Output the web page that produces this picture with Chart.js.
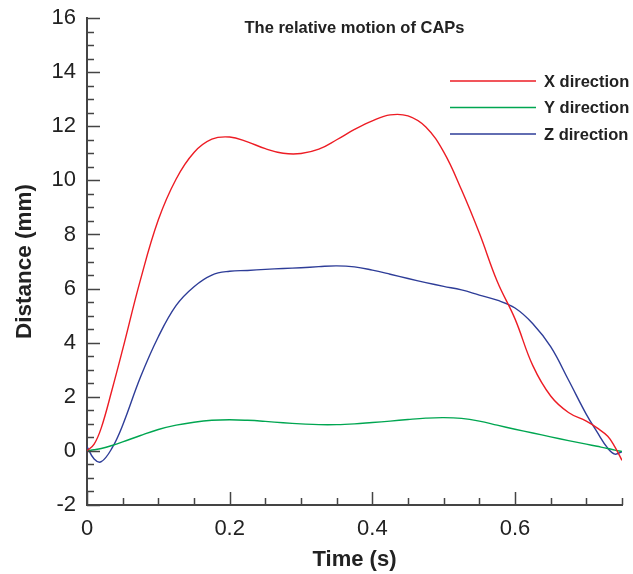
<!DOCTYPE html>
<html>
<head>
<meta charset="utf-8">
<script src="https://cdn.jsdelivr.net/npm/chart.js@4"></script>
<style>
  html, body { margin: 0; padding: 0; background: #fff; }
  canvas { display: block; }
</style>
</head>
<body>
<canvas id="chartCAPs" width="633" height="574"></canvas>
<script>
// Tempo (s) e deslocamentos (mm)
const tempo = [0, 0.01, 0.02, 0.035, 0.05, 0.075, 0.1, 0.125, 0.15, 0.175, 0.2, 0.225, 0.25, 0.275, 0.3,
  0.325, 0.35, 0.375, 0.4, 0.425, 0.45, 0.475, 0.5, 0.525, 0.55, 0.575, 0.6, 0.625, 0.65, 0.675, 0.7,
  0.715, 0.73, 0.74, 0.75];
const xDirection = [0, 0.25, 0.85, 2.25, 3.75, 6.33, 8.54, 10.05, 11.03, 11.52, 11.6, 11.42, 11.17, 11.0, 10.99,
  11.15, 11.5, 11.88, 12.2, 12.42, 12.38, 11.97, 11.05, 9.65, 8.05, 6.27, 4.88, 3.15, 2.03, 1.42, 1.1,
  0.85, 0.54, 0.15, -0.35];
const yDirection = [0, 0.04, 0.09, 0.2, 0.33, 0.57, 0.79, 0.95, 1.06, 1.13, 1.15, 1.13, 1.09, 1.04, 1.0,
  0.97, 0.97, 1.0, 1.05, 1.1, 1.16, 1.21, 1.23, 1.2, 1.1, 0.95, 0.8, 0.66, 0.52, 0.38, 0.25,
  0.17, 0.09, 0.03, -0.02];
const zDirection = [0.16, -0.3, -0.4, 0.1, 0.95, 2.73, 4.22, 5.38, 6.07, 6.5, 6.64, 6.67, 6.71, 6.74, 6.77,
  6.81, 6.84, 6.8, 6.68, 6.53, 6.37, 6.22, 6.08, 5.95, 5.76, 5.57, 5.28, 4.7, 3.85, 2.62, 1.35,
  0.7, 0.1, -0.12, -0.03];

const xTicks = [0, 0.2, 0.4, 0.6];
const yTicks = [-2, 0, 2, 4, 6, 8, 10, 12, 14, 16];
const seriesLabels = ['X direction', 'Y direction', 'Z direction'];
const chartTitle = 'The relative motion of CAPs';

const fonte = "'Liberation Sans', Arial, Helvetica, sans-serif";
Chart.defaults.font.family = fonte;
Chart.defaults.color = '#222';

function pontos(valores) {
  return tempo.map((t, i) => ({ x: t, y: valores[i] }));
}

// ticks para dentro, título e legenda dentro da área do gráfico
const eixosPlugin = {
  id: 'eixos',
  afterDraw(chart) {
    const { ctx, chartArea, scales: { x, y } } = chart;
    ctx.save();
    ctx.strokeStyle = '#444';
    ctx.lineWidth = 1.5;
    ctx.beginPath();
    for (let i = 0; i <= 36; i++) {
      const py = Math.round(y.getPixelForValue(-2 + i * 0.5)) + 0.5;
      const len = i % 4 === 0 ? 13 : 7;
      ctx.moveTo(chartArea.left, py);
      ctx.lineTo(chartArea.left + len, py);
    }
    for (let i = 0; i <= 15; i++) {
      const px = Math.round(x.getPixelForValue(i * 0.05)) + 0.5;
      const len = i % 4 === 0 ? 13 : 7;
      ctx.moveTo(px, chartArea.bottom);
      ctx.lineTo(px, chartArea.bottom - len);
    }
    ctx.stroke();

    ctx.fillStyle = '#222';
    ctx.textAlign = 'center';
    ctx.textBaseline = 'middle';
    ctx.font = 'bold 16.5px ' + fonte;
    ctx.fillText(chartTitle, (chartArea.left + chartArea.right) / 2, chartArea.top + 10);

    ctx.textAlign = 'left';
    ctx.font = 'bold 16.5px ' + fonte;
    chart.data.datasets.forEach((ds, i) => {
      const yy = chartArea.top + 63 + i * 26.5;
      ctx.strokeStyle = ds.borderColor;
      ctx.lineWidth = 1.5;
      ctx.beginPath();
      ctx.moveTo(chartArea.right - 172, yy);
      ctx.lineTo(chartArea.right - 86, yy);
      ctx.stroke();
      ctx.fillText(ds.label, chartArea.right - 78, yy + 1);
    });
    ctx.restore();
  }
};

new Chart(document.getElementById('chartCAPs'), {
  type: 'line',
  data: {
    datasets: [
      { label: seriesLabels[0], data: pontos(xDirection), borderColor: '#ED1C24' },
      { label: seriesLabels[1], data: pontos(yDirection), borderColor: '#00A651' },
      { label: seriesLabels[2], data: pontos(zDirection), borderColor: '#2E3D98' }
    ]
  },
  options: {
    responsive: false,
    animation: false,
    devicePixelRatio: 1,
    layout: { padding: { left: 0, right: 11, top: 18, bottom: 0 } },
    elements: {
      line: { borderWidth: 1.4, tension: 0.4, fill: false },
      point: { radius: 0, hoverRadius: 0 }
    },
    plugins: {
      legend: { display: false },
      tooltip: { enabled: false }
    },
    scales: {
      x: {
        type: 'linear',
        min: 0,
        max: 0.75,
        afterBuildTicks: s => { s.ticks = xTicks.map(v => ({ value: v })); },
        afterFit: s => { s.height = 69; s.paddingLeft = 0; s.paddingRight = 0; },
        grid: { display: false, drawTicks: false },
        border: { display: true, color: '#444', width: 2 },
        ticks: { font: { size: 22 }, color: '#222', padding: 11, maxRotation: 0 },
        title: { display: true, text: 'Time (s)', font: { size: 22, weight: 'bold' }, color: '#222', padding: { top: 0, bottom: 1 } }
      },
      y: {
        min: -2,
        max: 16,
        afterBuildTicks: s => { s.ticks = yTicks.map(v => ({ value: v })); },
        afterFit: s => { s.width = 87; s.paddingTop = 0; s.paddingBottom = 0; },
        grid: { display: false, drawTicks: false },
        border: { display: true, color: '#444', width: 2 },
        ticks: { font: { size: 22 }, color: '#222', padding: 11 },
        title: { display: true, text: 'Distance (mm)', font: { size: 22.5, weight: 'bold' }, color: '#222', padding: { top: 11, bottom: 0 } }
      }
    }
  },
  plugins: [eixosPlugin]
});
</script>
</body>
</html>
